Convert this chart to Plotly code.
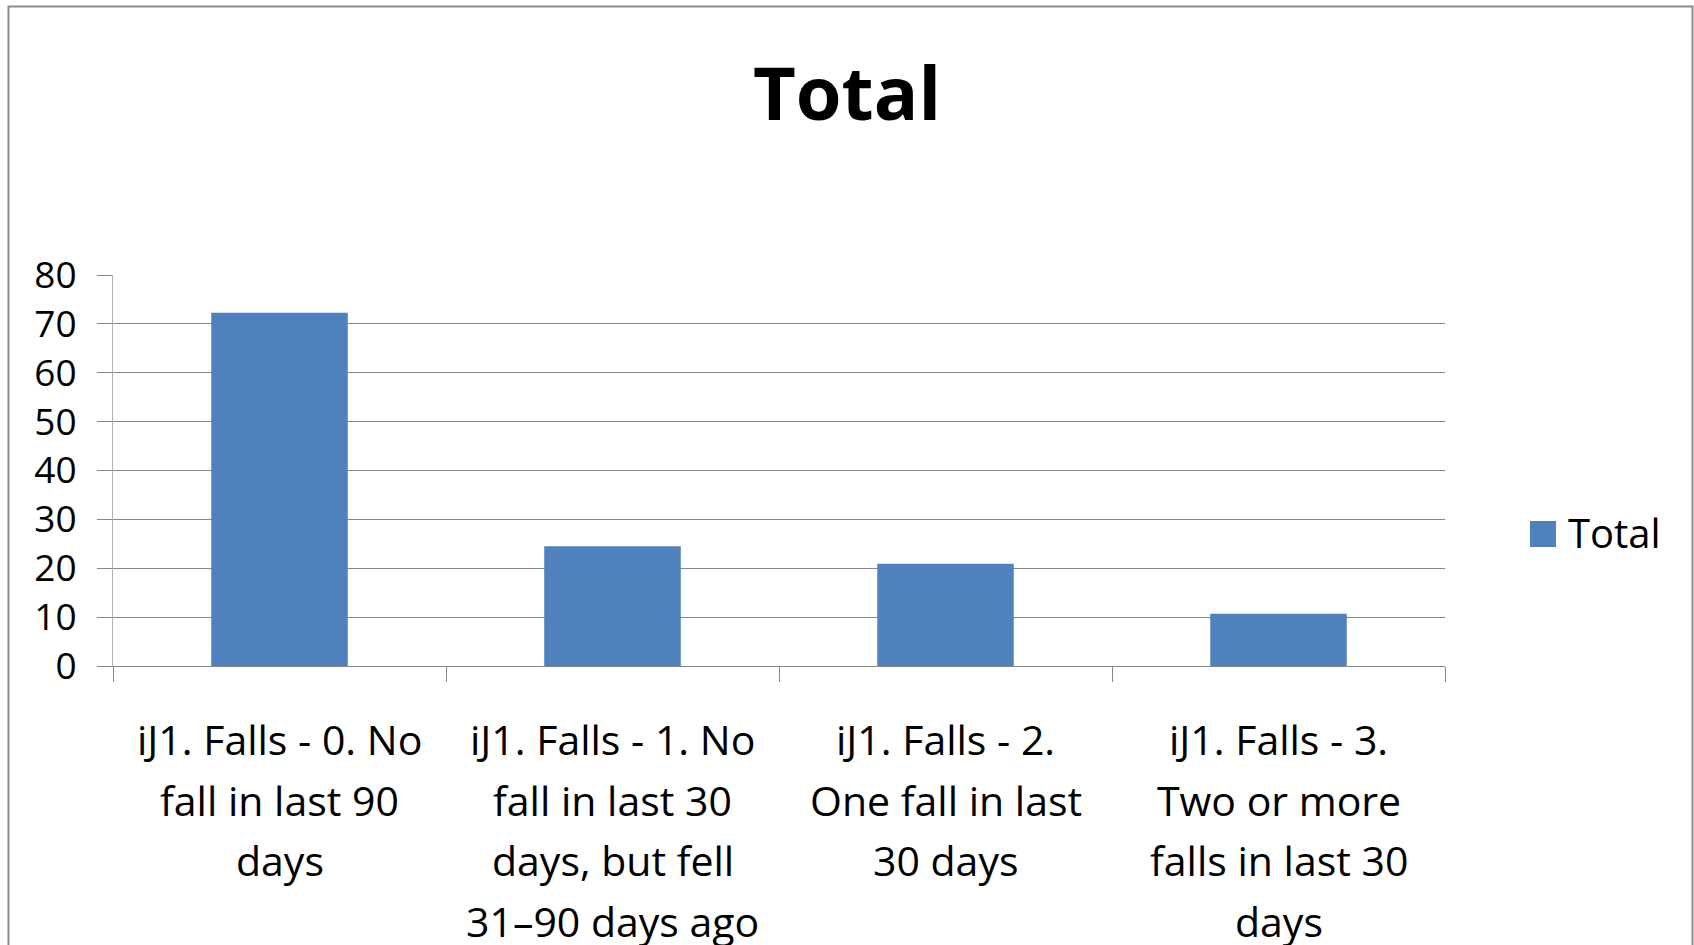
import plotly.graph_objects as go

# ---- data ----
categories = [
    "iJ1. Falls - 0. No fall in last 90 days",
    "iJ1. Falls - 1. No fall in last 30 days, but fell 31–90 days ago",
    "iJ1. Falls - 2. One fall in last 30 days",
    "iJ1. Falls - 3. Two or more falls in last 30 days",
]
category_lines = [
    ["iJ1. Falls - 0. No", "fall in last 90", "days"],
    ["iJ1. Falls - 1. No", "fall in last 30", "days, but fell", "31–90 days ago"],
    ["iJ1. Falls - 2.", "One fall in last", "30 days"],
    ["iJ1. Falls - 3.", "Two or more", "falls in last 30", "days"],
]
values = [72.3, 24.5, 20.9, 10.7]
series_name = "Total"
y_ticks = [0, 10, 20, 30, 40, 50, 60, 70, 80]

# ---- layout geometry (pixels) ----
W, H = 1694, 945
L, R, T, B = 113, 1445, 275, 666
FONT = "Open Sans"
BAR = "#4F81BD"
GRID = "#868686"


def px_x(px):
    return (px - L) / (R - L)


def px_y(py):
    return (B - py) / (B - T)


fig = go.Figure()
fig.add_trace(go.Bar(
    x=categories, y=values, name=series_name,
    marker=dict(color=BAR, line=dict(width=0)),
    showlegend=False,
))

annotations = []
base0, step = 753.0, 60.5
for cat, lines in zip(categories, category_lines):
    for j, line in enumerate(lines):
        annotations.append(dict(
            x=cat, xref="x", y=px_y(base0 + j * step - 14), yref="paper",
            text=line, showarrow=False, xanchor="center", yanchor="middle",
            font=dict(family=FONT, size=41, color="black"),
        ))

# legend text
annotations.append(dict(
    x=px_x(1566), xref="paper", y=px_y(532.5), yref="paper",
    text=series_name, showarrow=False, xanchor="left", yanchor="middle",
    font=dict(family=FONT, size=40, color="black"),
))

shapes = [
    # legend swatch
    dict(type="rect", xref="paper", yref="paper",
         x0=px_x(1530), x1=px_x(1556), y0=px_y(547), y1=px_y(521),
         fillcolor=BAR, line=dict(width=0)),
    # chart border
    dict(type="rect", xref="paper", yref="paper",
         x0=px_x(8.5), x1=px_x(1692.5), y0=px_y(980), y1=px_y(6.5),
         line=dict(color="#8C8C8C", width=2), fillcolor="rgba(0,0,0,0)",
         layer="above"),
]

fig.update_layout(
    width=W, height=H,
    margin=dict(l=L, r=W - R, t=T, b=H - B, pad=0),
    paper_bgcolor="white", plot_bgcolor="white",
    bargap=0.59,
    title=dict(text="Total", x=0.5, xref="container", xanchor="center",
               y=1 - 94 / H, yref="container", yanchor="middle",
               font=dict(family=FONT, size=74, color="black", weight="bold")),
    xaxis=dict(
        type="category", showticklabels=False, showgrid=False,
        tickson="boundaries", ticks="outside", ticklen=15, tickcolor=GRID,
        tickwidth=1, showline=True, linecolor=GRID, linewidth=1,
    ),
    yaxis=dict(
        range=[0, 80], tickvals=y_ticks, ticks="outside", ticklen=15,
        tickcolor=GRID, tickwidth=1, showgrid=True, gridcolor=GRID,
        gridwidth=1, zeroline=False, showline=True, linecolor="#B0B0B0",
        linewidth=1, ticklabelstandoff=13,
        tickfont=dict(family=FONT, size=37, color="black"),
    ),
    annotations=annotations,
    shapes=shapes,
    showlegend=False,
)

fig.write_html(
    "out.html",
    config={"displayModeBar": False},
    post_script="document.body.style.margin='0';document.body.style.overflow='hidden';",
)
